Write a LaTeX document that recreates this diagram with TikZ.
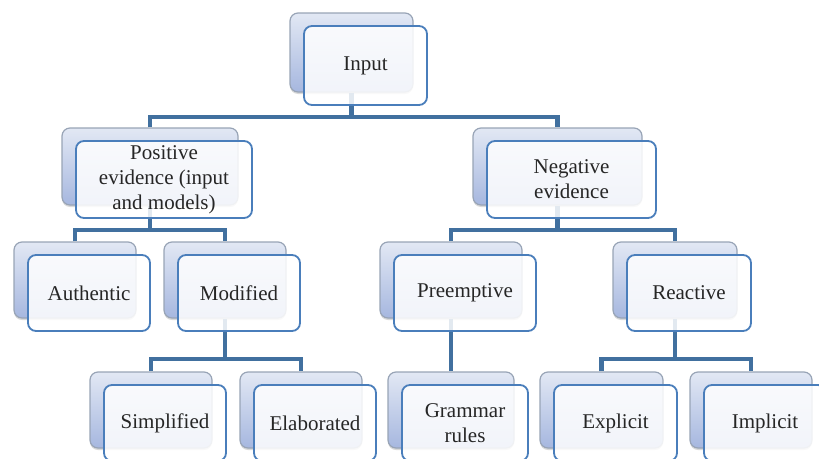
\documentclass[tikz,border=0pt]{standalone}
\usepackage{fontspec}
\setmainfont{Liberation Serif}
\usetikzlibrary{positioning,shadows}
\definecolor{barblue}{HTML}{41709F}
\definecolor{edgeblue}{HTML}{4A7EBB}
\definecolor{backtop}{HTML}{E2E8F4}
\definecolor{backbot}{HTML}{A6B7DF}
\definecolor{backedge}{HTML}{98A4B6}
\tikzstyle{conn} = [line width=4.5pt, draw=barblue]
\tikzstyle{bbox} = [draw=backedge, line width=1.2pt, rounded corners=8pt, top color=backtop, bottom color=backbot, drop shadow={shadow xshift=0pt, shadow yshift=-2pt, opacity=0.3}]
\tikzstyle{fbox} = [draw=edgeblue, line width=1.8pt, rounded corners=8pt, fill=white, fill opacity=0.85, text opacity=1, align=center, inner sep=2pt, text=black!85, font=\fontsize{21}{25}\selectfont]

\begin{document}
\begin{tikzpicture}[x=1pt, y=-1pt]
    \useasboundingbox (0,0) rectangle (819,458);

    % back boxes
    \node [bbox, minimum width=123pt, minimum height=79pt] (inb) at (351.5,52.5) {};
    \node [bbox, minimum width=176pt, minimum height=77pt] (posb) at (150,166.5) {};
    \node [bbox, minimum width=169pt, minimum height=77pt] (negb) at (557.5,166.5) {};
    \node [bbox, minimum width=122pt, minimum height=76pt] (authb) at (75,280) {};
    \node [bbox, minimum width=122pt, minimum height=76pt] (modb) at (225,280) {};
    \node [bbox, minimum width=142pt, minimum height=76pt] (preb) at (451,280) {};
    \node [bbox, minimum width=124pt, minimum height=76pt] (reab) at (675,280) {};
    \node [bbox, minimum width=122pt, minimum height=76pt] (simb) at (151,410) {};
    \node [bbox, minimum width=122pt, minimum height=76pt] (elab) at (301,410) {};
    \node [bbox, minimum width=126pt, minimum height=76pt] (gramb) at (451,410) {};
    \node [bbox, minimum width=123pt, minimum height=76pt] (expb) at (601.5,410) {};
    \node [bbox, minimum width=122pt, minimum height=76pt] (impb) at (751,410) {};

    % bars
    \coordinate (bar0) at (0,117);
    \coordinate (bar1) at (0,230);
    \coordinate (bar2) at (0,359);

    \draw [conn] (inb.south) -- (inb |- bar0);
    \draw [conn] (posb.north) |- (inb |- bar0) -| (negb.north);
    \draw [conn] (posb.south) -- (posb |- bar1);
    \draw [conn] (authb.north) |- (posb |- bar1) -| (modb.north);
    \draw [conn] (negb.south) -- (negb |- bar1);
    \draw [conn] (preb.north) |- (negb |- bar1) -| (reab.north);
    \draw [conn] (modb.south) -- (modb |- bar2);
    \draw [conn] (simb.north) |- (modb |- bar2) -| (elab.north);
    \draw [conn] (preb.south) -- (gramb.north);
    \draw [conn] (reab.south) -- (reab |- bar2);
    \draw [conn] (expb.north) |- (reab |- bar2) -| (impb.north);

    % front boxes
    \node [fbox, minimum width=123pt, minimum height=79pt] (in) at ([shift={(14,13)}]inb) {Input};
    \node [fbox, minimum width=176pt, minimum height=77pt] (pos) at ([shift={(14,13)}]posb) {Positive\\evidence (input\\and models)};
    \node [fbox, minimum width=169pt, minimum height=77pt] (neg) at ([shift={(14,13)}]negb) {Negative\\evidence};
    \node [fbox, minimum width=122pt, minimum height=76pt] (auth) at ([shift={(14,13)}]authb) {Authentic};
    \node [fbox, minimum width=122pt, minimum height=76pt] (mod) at ([shift={(14,13)}]modb) {Modified};
    \node [fbox, minimum width=142pt, minimum height=76pt] (pre) at ([shift={(14,13)}]preb) {Preemptive};
    \node [fbox, minimum width=124pt, minimum height=76pt] (rea) at ([shift={(14,13)}]reab) {Reactive};
    \node [fbox, minimum width=122pt, minimum height=76pt] (sim) at ([shift={(14,13)}]simb) {Simplified};
    \node [fbox, minimum width=122pt, minimum height=76pt] (ela) at ([shift={(14,13)}]elab) {Elaborated};
    \node [fbox, minimum width=126pt, minimum height=76pt] (gram) at ([shift={(14,13)}]gramb) {Grammar\\rules};
    \node [fbox, minimum width=123pt, minimum height=76pt] (exp) at ([shift={(14,13)}]expb) {Explicit};
    \node [fbox, minimum width=122pt, minimum height=76pt] (imp) at ([shift={(14,13)}]impb) {Implicit};
\end{tikzpicture}
\end{document}
